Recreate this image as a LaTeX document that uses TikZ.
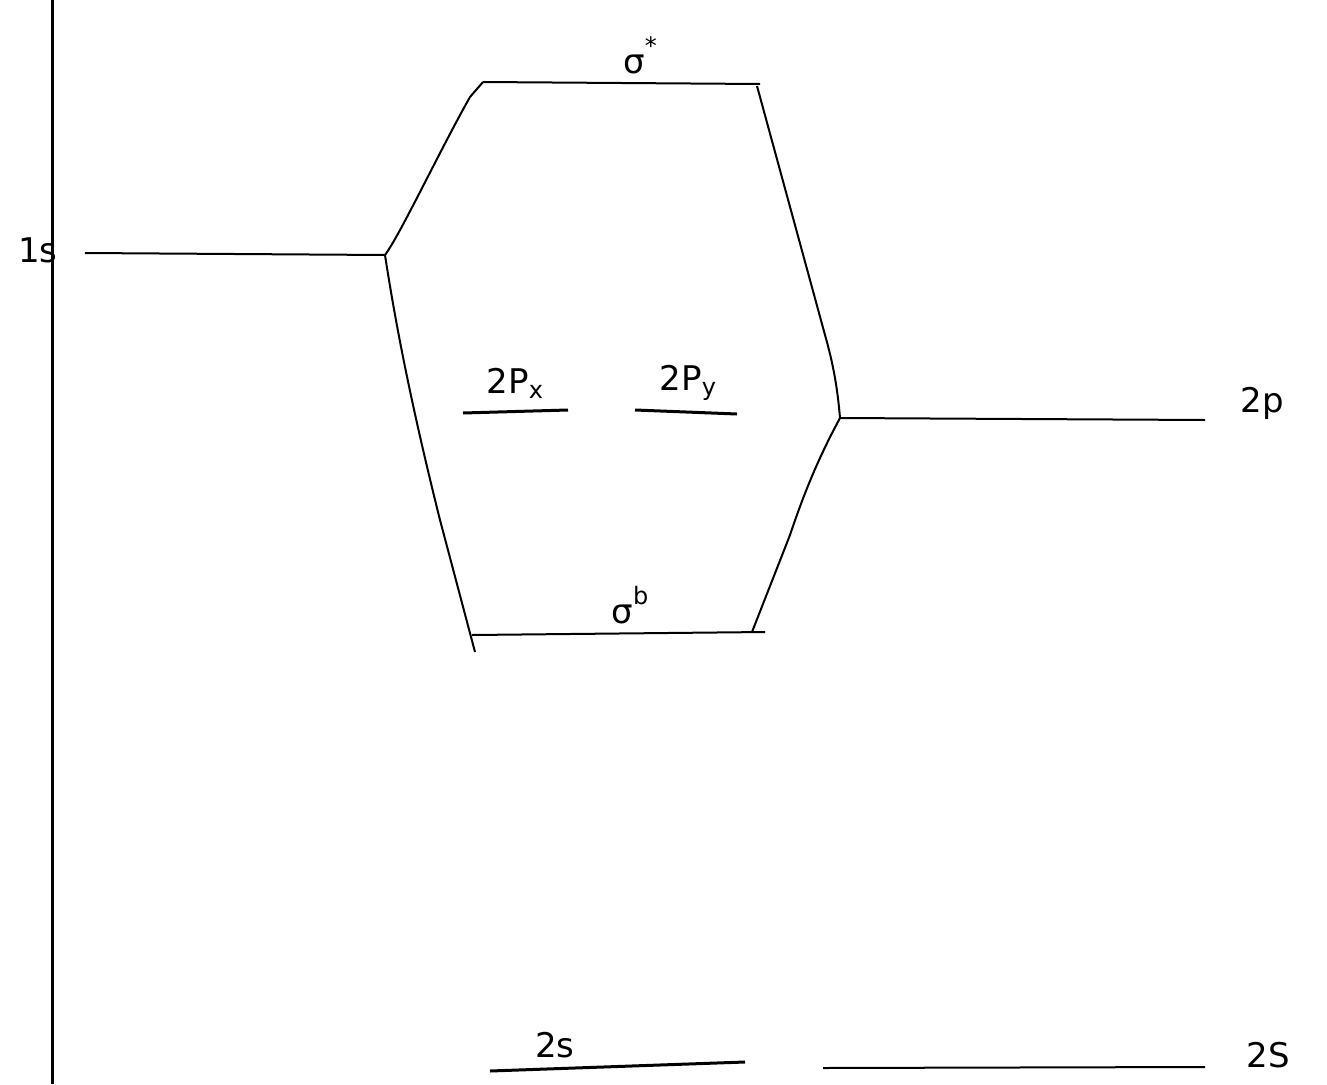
\documentclass[tikz,border=0pt]{standalone}
\usepackage{fontspec}
\setmainfont{DejaVu Sans}
\newcommand{\mysup}[1]{\raisebox{0.55em}{\fontsize{24}{28}\selectfont #1}}
\newcommand{\mysub}[1]{\raisebox{-0.15em}{\fontsize{24}{28}\selectfont #1}}
\begin{document}
\begin{tikzpicture}[x=1pt,y=-1pt,
  lvl/.style={line width=2pt},
  thicklvl/.style={line width=3pt},
  conn/.style={line width=2pt, line join=round},
  lab/.style={font=\fontsize{34}{40}\selectfont, inner sep=0pt}]
\useasboundingbox (0,0) rectangle (1327,1084);
% axis
\coordinate (axT) at (52,0);
\coordinate (axB) at (52,1084);
\draw[line width=3pt] (axT) -- (axB);
% levels
\coordinate (s1L) at (85,253); \coordinate (s1R) at (385,255);
\coordinate (saL) at (483,82); \coordinate (saR) at (760,84);
\coordinate (sbL) at (472,635); \coordinate (sbR) at (765,632);
\coordinate (pL) at (840,418); \coordinate (pR) at (1205,420);
\coordinate (pxL) at (463,413); \coordinate (pxR) at (568,410);
\coordinate (pyL) at (635,410); \coordinate (pyR) at (737,414);
\coordinate (s2aL) at (490,1071); \coordinate (s2aR) at (745,1062);
\coordinate (s2bL) at (823,1068); \coordinate (s2bR) at (1205,1067);
\draw[lvl] (s1L) -- (s1R);
\draw[lvl] (saL) -- (saR);
\draw[lvl] (sbL) -- (sbR);
\draw[lvl] (pL) -- (pR);
\draw[thicklvl] (pxL) -- (pxR);
\draw[thicklvl] (pyL) -- (pyR);
\draw[thicklvl] (s2aL) -- (s2aR);
\draw[lvl] (s2bL) -- (s2bR);
% connectors
\draw[conn] (s1R) .. controls (400,235) and (440,150) .. (470,97) -- (saL);
\draw[conn] (s1R) .. controls (395,320) and (410,400) .. (440,520) -- (475,652);
\draw[conn] (757,86) -- (825,335) .. controls (835,370) and (838,395) .. (pL);
\draw[conn] (pL) .. controls (820,455) and (805,490) .. (790,535) -- (752,632);
% labels
\node[lab] (l1s) at (38,250) {1s};
\node[lab] (lsa) at (640,55) {σ\mysup{*}};
\node[lab] (lsb) at (630,605) {σ\mysup{b}};
\node[lab] (lpx) at (515,383) {2P\mysub{x}};
\node[lab] (lpy) at (688,383) {2P\mysub{y}};
\node[lab] (lp) at (1262,403) {2p};
\node[lab] (ls2a) at (555,1045) {2s};
\node[lab] (ls2b) at (1268,1055) {2S};
\end{tikzpicture}
\end{document}
